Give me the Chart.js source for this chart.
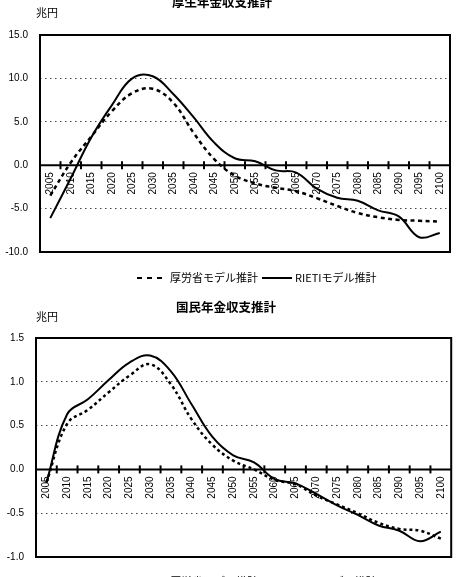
<!DOCTYPE html>
<html>
<head>
<meta charset="utf-8">
<script src="https://cdn.jsdelivr.net/npm/chart.js@4.4.1/dist/chart.umd.min.js"></script>
<style>
html, body { margin: 0; padding: 0; background: #fff; overflow: hidden; }
canvas { display: block; }
</style>
</head>
<body>
<canvas id="kosei" width="460" height="290"></canvas>
<canvas id="kokumin" width="460" height="300"></canvas>
<script>
// --- data (兆円) ---
const years = ["2005", "2010", "2015", "2020", "2025", "2030", "2035", "2040", "2045", "2050",
               "2055", "2060", "2065", "2070", "2075", "2080", "2085", "2090", "2095", "2100"];
const seriesNames = ["厚労省モデル推計", "RIETIモデル推計"];

const koseiMhlw  = [-3.5, 0.3, 3.3, 6.2, 8.3, 8.8, 7.2, 3.7, 0.7, -1.2,
                    -2.1, -2.6, -3.0, -3.8, -4.7, -5.5, -6.0, -6.3, -6.4, -6.5];
const koseiRieti = [-6.1, -1.5, 3.2, 6.9, 10.0, 10.25, 8.2, 5.5, 2.6, 0.8,
                    0.45, -0.6, -0.85, -2.7, -3.75, -4.1, -5.2, -5.9, -8.3, -7.8];

const kokuminMhlw  = [-0.15, 0.52, 0.68, 0.88, 1.07, 1.20, 0.97, 0.57, 0.28, 0.10,
                      0.0, -0.12, -0.17, -0.30, -0.40, -0.50, -0.61, -0.68, -0.70, -0.79];
const kokuminRieti = [-0.15, 0.63, 0.80, 1.02, 1.22, 1.30, 1.12, 0.74, 0.37, 0.16,
                      0.08, -0.11, -0.16, -0.28, -0.41, -0.52, -0.64, -0.70, -0.82, -0.71];

const koseiTicks   = [-10, -5, 0, 5, 10, 15];
const kokuminTicks = [-1.0, -0.5, 0, 0.5, 1.0, 1.5];

const numFont = "Liberation Sans";
const jpFont = "Noto Sans CJK JP";

// Excel-like frame, zero axis with cross ticks, title, unit and legend
const excelLook = {
    id: "excelLook",
    beforeDatasetsDraw(chart) {
        const ctx = chart.ctx;
        const x = chart.scales.x;
        const y = chart.scales.y;
        const y0 = y.getPixelForValue(0);
        ctx.save();
        ctx.strokeStyle = "#000";
        ctx.lineWidth = 2;
        ctx.beginPath();
        ctx.moveTo(chart.chartArea.left, y0);
        ctx.lineTo(chart.chartArea.right, y0);
        ctx.stroke();
        for (let i = 1; i < chart.data.labels.length; i++) {
            const px = (x.getPixelForValue(i - 1) + x.getPixelForValue(i)) / 2;
            ctx.beginPath();
            ctx.moveTo(px, y0 - 4);
            ctx.lineTo(px, y0 + 4);
            ctx.stroke();
        }
        ctx.restore();
    },
    afterDatasetsDraw(chart) {
        const ctx = chart.ctx;
        const a = chart.chartArea;
        ctx.save();
        ctx.strokeStyle = "#000";
        ctx.lineWidth = 2;
        ctx.strokeRect(a.left, a.top, a.right - a.left, a.bottom - a.top);
        ctx.restore();
    },
    afterDraw(chart, args, opts) {
        const ctx = chart.ctx;
        ctx.save();
        ctx.fillStyle = "#000";
        ctx.textBaseline = "middle";

        ctx.textAlign = "center";
        ctx.font = "bold 12.5px '" + jpFont + "'";
        ctx.fillText(opts.title, opts.titleX, opts.titleY);

        ctx.textAlign = "left";
        ctx.font = "11px '" + jpFont + "'";
        ctx.fillText("兆円", opts.unitX, opts.unitY);

        // legend
        let lx = opts.legendX;
        const ly = opts.legendY;
        chart.data.datasets.forEach(ds => {
            ctx.save();
            ctx.strokeStyle = ds.borderColor;
            ctx.lineWidth = 2;
            ctx.setLineDash(ds.borderDash ? [5, 5] : []);
            ctx.beginPath();
            ctx.moveTo(lx, ly);
            ctx.lineTo(lx + 30, ly);
            ctx.stroke();
            ctx.restore();
            lx += 33;
            ctx.fillText(ds.label, lx, ly);
            lx += ctx.measureText(ds.label).width + 4;
        });
        ctx.restore();
    }
};

function makeChart(id, mhlw, rieti, ticks, layout, dash, look) {
    const major = ticks.filter(v => v !== 0 && v !== ticks[0] && v !== ticks[ticks.length - 1]);
    return new Chart(document.getElementById(id), {
        type: "line",
        data: {
            labels: years,
            datasets: [
                {
                    label: seriesNames[0],
                    data: mhlw,
                    borderColor: "#000",
                    borderWidth: 2.5,
                    borderDash: dash,
                    pointRadius: 0,
                    tension: 0.4,
                    fill: false
                },
                {
                    label: seriesNames[1],
                    data: rieti,
                    borderColor: "#000",
                    borderWidth: 2,
                    pointRadius: 0,
                    tension: 0.4,
                    fill: false
                }
            ]
        },
        options: {
            responsive: false,
            animation: false,
            layout: { padding: layout.padding },
            plugins: {
                legend: { display: false },
                tooltip: { enabled: false },
                title: { display: false },
                excelLook: look
            },
            scales: {
                x: {
                    type: "category",
                    position: { y: 0 },
                    offset: true,
                    grid: { display: false, drawTicks: false },
                    border: { display: false },
                    ticks: {
                        autoSkip: false,
                        minRotation: 90,
                        maxRotation: 90,
                        padding: 7,
                        color: "#000",
                        font: { family: numFont, size: 10 }
                    }
                },
                y: {
                    min: ticks[0],
                    max: ticks[ticks.length - 1],
                    afterFit: s => { s.width = layout.axisWidth; },
                    afterBuildTicks: s => { s.ticks = ticks.map(v => ({ value: v })); },
                    grid: {
                        drawTicks: false,
                        lineWidth: 1,
                        color: c => major.includes(c.tick.value) ? "#444" : "rgba(0,0,0,0)"
                    },
                    border: { display: false, dash: [1.5, 3.5] },
                    ticks: {
                        padding: 12,
                        color: "#000",
                        font: { family: numFont, size: 10 },
                        callback: v => Number(v).toFixed(1)
                    }
                }
            }
        },
        plugins: [excelLook]
    });
}

makeChart("kosei", koseiMhlw, koseiRieti, koseiTicks,
    { padding: { top: 35, right: 10, bottom: 38, left: 0 }, axisWidth: 40 },
    [4, 3.5],
    { title: "厚生年金収支推計", titleX: 222, titleY: 2, unitX: 36, unitY: 13, legendX: 137, legendY: 278 });

makeChart("kokumin", kokuminMhlw, kokuminRieti, kokuminTicks,
    { padding: { top: 48, right: 7, bottom: 33, left: 0 }, axisWidth: 36 },
    [3, 3],
    { title: "国民年金収支推計", titleX: 226, titleY: 17, unitX: 36, unitY: 27, legendX: 137, legendY: 292 });
</script>
</body>
</html>
